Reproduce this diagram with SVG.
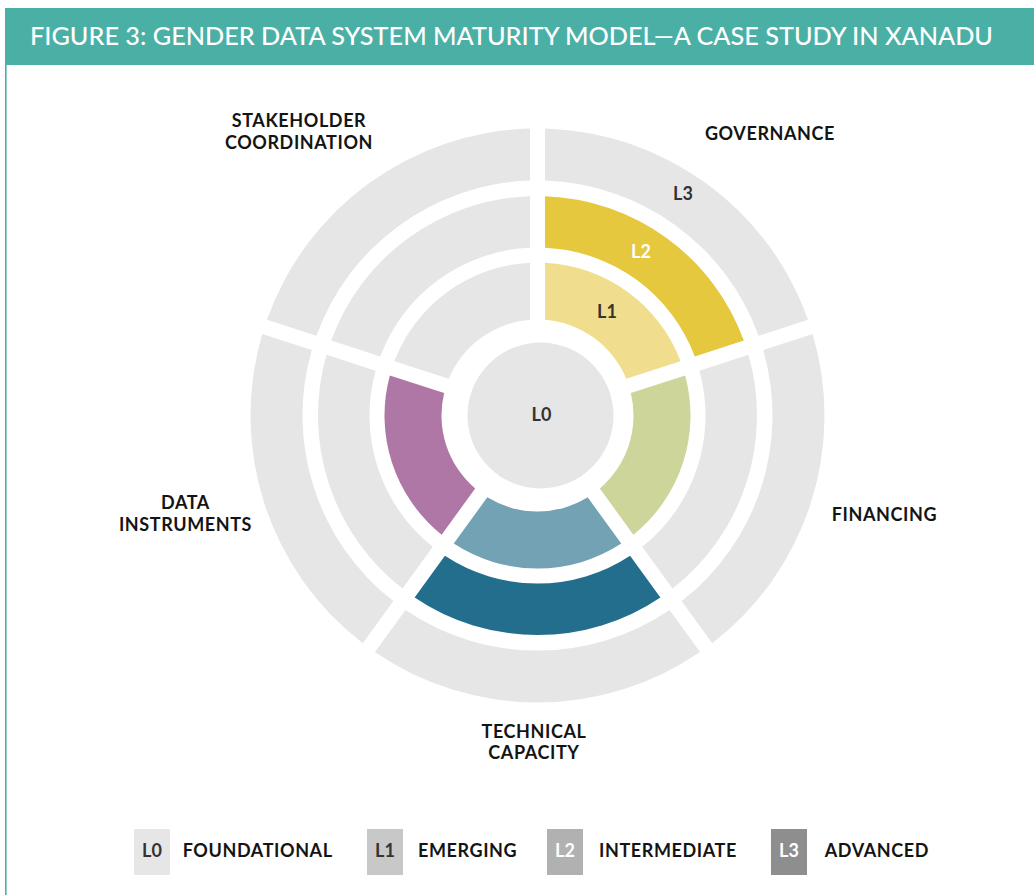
<svg xmlns="http://www.w3.org/2000/svg" width="1034" height="895" viewBox="0 0 1034 895">
<style>
.bg{fill:#ffffff}
.g{fill:#E6E6E6}
.title{font-family:Lato,"Open Sans","Liberation Sans",sans-serif;font-size:25px;fill:#ffffff;font-weight:500}
.cat{font-family:Lato,"Open Sans","Liberation Sans",sans-serif;font-size:18px;font-weight:700;fill:#141414;text-anchor:middle;letter-spacing:0.6px}
.lv{font-family:Lato,"Open Sans","Liberation Sans",sans-serif;font-size:18px;font-weight:700;fill:#333333;text-anchor:middle}
.lvw{fill:#ffffff}
.leg{font-family:Lato,"Open Sans","Liberation Sans",sans-serif;font-size:18px;font-weight:700;fill:#141414;letter-spacing:0.6px}
</style>
<rect class="bg" x="0" y="0" width="1034" height="895"/>
<g id="header">
<rect x="5" y="8" width="1029" height="57" fill="#4AB0A6"/>
<rect x="5" y="65" width="1.6" height="830" fill="#4AB0A6"/>
<text class="title" x="30" y="45" textLength="963" lengthAdjust="spacingAndGlyphs">FIGURE 3: GENDER DATA SYSTEM MATURITY MODEL—A CASE STUDY IN XANADU</text>
</g>
<g id="chart" transform="translate(537.5,415.5)">
<g id="governance">
<path fill="#F0DE8E" d="M7.5,-152.82 A153,153 0 0 1 143.02,-54.36 L88.71,-36.71 A96,96 0 0 0 7.5,-95.71 Z"/>
<path fill="#E5C83E" d="M7.5,-219.37 A219.5,219.5 0 0 1 206.32,-74.92 L157.30,-59.00 A168,168 0 0 0 7.5,-167.83 Z"/>
<path class="g" d="M7.5,-286.90 A287,287 0 0 1 270.54,-95.79 L221.07,-79.72 A235,235 0 0 0 7.5,-234.88 Z"/>
<text class="lv" x="69.5" y="-97.2">L1</text>
<text class="lv lvw" x="103.5" y="-157.8">L2</text>
<text class="lv" x="145.5" y="-215.5">L3</text>
</g>
<g id="financing">
<path fill="#CDD59B" d="M147.65,-40.09 A153,153 0 0 1 95.89,119.22 L62.32,73.02 A96,96 0 0 0 93.34,-22.44 Z"/>
<path class="g" d="M210.95,-60.66 A219.5,219.5 0 0 1 135.01,173.07 L104.72,131.37 A168,168 0 0 0 161.94,-44.73 Z"/>
<path class="g" d="M275.18,-81.53 A287,287 0 0 1 174.70,227.70 L144.13,185.61 A235,235 0 0 0 225.70,-65.45 Z"/>
</g>
<g id="technical-capacity">
<path fill="#72A2B4" d="M83.76,128.04 A153,153 0 0 1 -83.76,128.04 L-50.19,81.84 A96,96 0 0 0 50.19,81.84 Z"/>
<path fill="#226E8C" d="M122.88,181.88 A219.5,219.5 0 0 1 -122.88,181.88 L-92.58,140.19 A168,168 0 0 0 92.58,140.19 Z"/>
<path class="g" d="M162.57,236.52 A287,287 0 0 1 -162.57,236.52 L-131.99,194.43 A235,235 0 0 0 131.99,194.43 Z"/>
</g>
<g id="data-instruments">
<path fill="#AF77A5" d="M-95.89,119.22 A153,153 0 0 1 -147.65,-40.09 L-93.34,-22.44 A96,96 0 0 0 -62.32,73.02 Z"/>
<path class="g" d="M-135.01,173.07 A219.5,219.5 0 0 1 -210.95,-60.66 L-161.94,-44.73 A168,168 0 0 0 -104.72,131.37 Z"/>
<path class="g" d="M-174.70,227.70 A287,287 0 0 1 -275.18,-81.53 L-225.70,-65.45 A235,235 0 0 0 -144.13,185.61 Z"/>
</g>
<g id="stakeholder-coordination">
<path class="g" d="M-143.02,-54.36 A153,153 0 0 1 -7.5,-152.82 L-7.5,-95.71 A96,96 0 0 0 -88.71,-36.71 Z"/>
<path class="g" d="M-206.32,-74.92 A219.5,219.5 0 0 1 -7.5,-219.37 L-7.5,-167.83 A168,168 0 0 0 -157.30,-59.00 Z"/>
<path class="g" d="M-270.54,-95.79 A287,287 0 0 1 -7.5,-286.90 L-7.5,-234.88 A235,235 0 0 0 -221.07,-79.72 Z"/>
</g>
<g id="foundational">
<circle class="g" cx="3" cy="0" r="73"/>
<text class="lv" x="4" y="5.2">L0</text>
</g>
</g>
<g id="labels">
<text class="cat" x="770" y="140">GOVERNANCE</text>
<text class="cat" x="299" y="126.7">STAKEHOLDER</text>
<text class="cat" x="299" y="148.5">COORDINATION</text>
<text class="cat" x="884.5" y="521">FINANCING</text>
<text class="cat" x="185.5" y="509">DATA</text>
<text class="cat" x="185.5" y="531">INSTRUMENTS</text>
<text class="cat" x="534" y="737.5">TECHNICAL</text>
<text class="cat" x="534" y="759">CAPACITY</text>
</g>
<g id="legend">
<g id="legend-l0">
<rect x="134" y="829" width="36" height="46" fill="#E6E6E6"/>
<text class="lv" x="152" y="857.3">L0</text>
<text class="leg" x="182.7" y="857.3">FOUNDATIONAL</text>
</g>
<g id="legend-l1">
<rect x="367" y="829" width="36" height="46" fill="#C8C8C8"/>
<text class="lv" x="385" y="857.3">L1</text>
<text class="leg" x="418" y="857.3">EMERGING</text>
</g>
<g id="legend-l2">
<rect x="547" y="829" width="36" height="46" fill="#B1B1B1"/>
<text class="lv lvw" x="565" y="857.3">L2</text>
<text class="leg" x="599" y="857.3">INTERMEDIATE</text>
</g>
<g id="legend-l3">
<rect x="771" y="829" width="36" height="46" fill="#8E8E8E"/>
<text class="lv lvw" x="789" y="857.3">L3</text>
<text class="leg" x="824.7" y="857.3">ADVANCED</text>
</g>
</g>
</svg>
